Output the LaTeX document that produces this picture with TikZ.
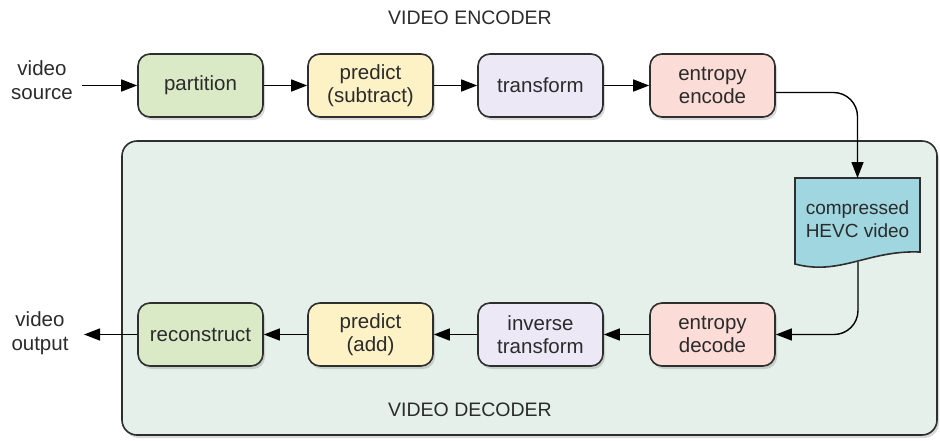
\documentclass[tikz,border=0pt]{standalone}
\usepackage{fontspec}
\setmainfont{Liberation Sans}
\usetikzlibrary{arrows.meta,shadows,calc}

\definecolor{edgegray}{HTML}{2E2E2E}
\definecolor{txtgray}{HTML}{2B2B2B}
\definecolor{fillgreen}{HTML}{DAEAC6}
\definecolor{fillyellow}{HTML}{FDF1C6}
\definecolor{filllilac}{HTML}{ECE8F6}
\definecolor{fillpink}{HTML}{FCDCD7}
\definecolor{filldoc}{HTML}{9FD6DF}
\definecolor{fillpanel}{HTML}{E5F0EA}

\tikzset{
  every node/.style={text=txtgray, font=\fontsize{20.5}{23.5}\selectfont},
  stage/.style={draw=edgegray, line width=1.6pt, rounded corners=12pt,
    minimum width=125pt, minimum height=63pt, align=center, inner sep=2pt,
    drop shadow={shadow xshift=2pt, shadow yshift=-3pt, opacity=0.3}},
  flow/.style={draw=black, line width=1.4pt,
    -{Triangle[length=16pt,width=12pt]}},
  lbl/.style={align=center},
  ttl/.style={font=\fontsize{19.5}{23}\selectfont}
}

\begin{document}
\begin{tikzpicture}[x=1pt,y=-1pt]
  \useasboundingbox (0,0) rectangle (940,440);

  % decoder panel
  \path[draw=edgegray, line width=1.6pt, rounded corners=15pt, fill=fillpanel,
        drop shadow={shadow xshift=2pt, shadow yshift=-3pt, opacity=0.3}]
        (122,141) rectangle (937,435);

  % titles
  \node[ttl] (enctitle) at (470,18) {VIDEO ENCODER};
  \node[ttl] (dectitle) at (470,410) {VIDEO DECODER};

  % encoder row
  \node[lbl] (src) at (42,80) {video\\source};
  \node[stage, fill=fillgreen]  (part) at (200.5,85.5) {partition};
  \node[stage, fill=fillyellow] (pred) at (370.5,85.5) {predict\\(subtract)};
  \node[stage, fill=filllilac]  (tran) at (540.5,85.5) {transform};
  \node[stage, fill=fillpink]   (ee)   at (712.5,85.5) {entropy\\encode};

  % compressed stream (document shape)
  \path[draw=edgegray, line width=1.6pt, fill=filldoc]
    (795,178) -- (920,178) -- (920,252)
    .. controls (868,250) and (840,276) .. (795,264) -- cycle;
  \node[lbl, font=\fontsize{19}{23}\selectfont] (doc) at (857.5,219) {compressed\\HEVC video};
  \coordinate (doctop) at (857.5,178);
  \coordinate (docb)  at (858,262);

  % decoder row
  \node[lbl] (out) at (40,333) {video\\output};
  \node[stage, fill=fillgreen]  (rec)  at (200.5,334.5) {reconstruct};
  \node[stage, fill=fillyellow] (padd) at (370.5,334.5) {predict\\(add)};
  \node[stage, fill=filllilac]  (itr)  at (540.5,334.5) {inverse\\transform};
  \node[stage, fill=fillpink]   (ed)   at (712.5,334.5) {entropy\\decode};

  % connectors
  \coordinate (srcend) at (82,85.5);
  \coordinate (outend) at (84,334.5);
  \draw[flow] (srcend) -- (part.west);
  \draw[flow] (part) -- (pred);
  \draw[flow] (pred) -- (tran);
  \draw[flow] (tran) -- (ee);
  \draw[flow, rounded corners=24pt] ($(ee.east)+(0,7)$) -| (doctop);
  \draw[flow, rounded corners=24pt] (docb) |- (ed.east);
  \draw[flow] (ed) -- (itr);
  \draw[flow] (itr) -- (padd);
  \draw[flow] (padd) -- (rec);
  \draw[flow] (rec.west) -- (outend);
\end{tikzpicture}
\end{document}
